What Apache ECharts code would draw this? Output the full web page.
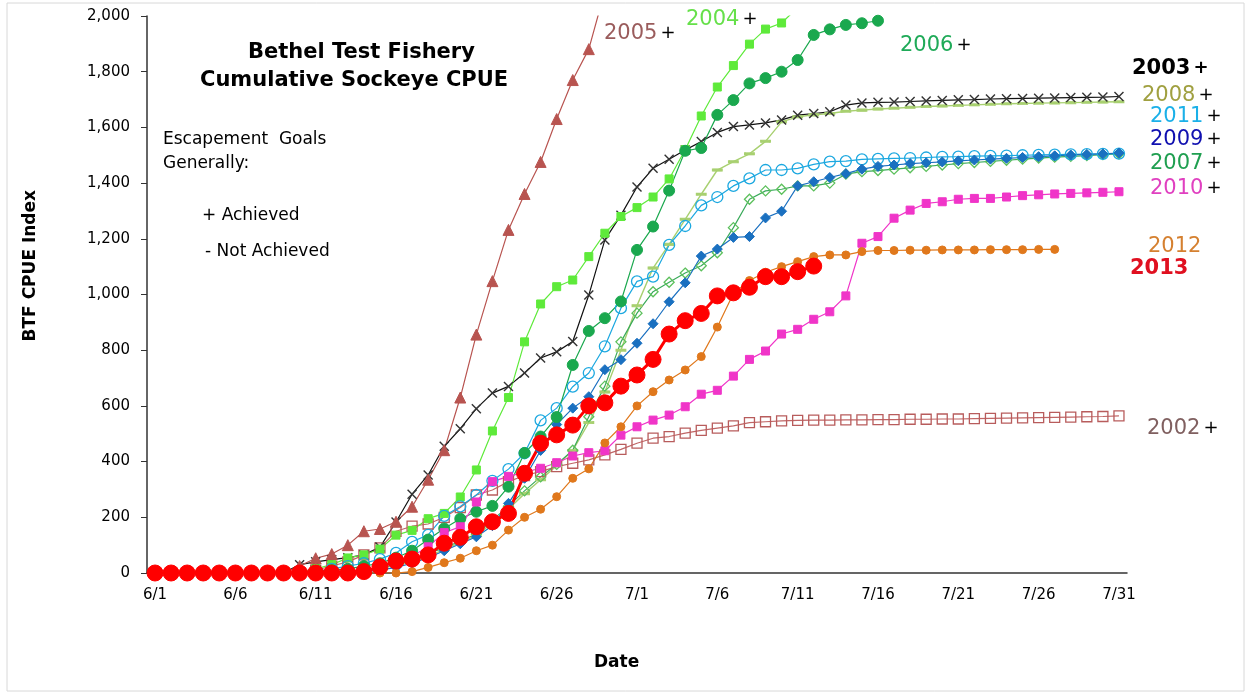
<!DOCTYPE html>
<html><head><meta charset="utf-8">
<script src="https://cdn.jsdelivr.net/npm/echarts@6/dist/echarts.min.js"></script>
<style>html,body{margin:0;padding:0;background:#fff}#c{width:1250px;height:697px}</style>
</head><body><div id="c"></div>
<script>
const categories = ['6/1','6/2','6/3','6/4','6/5','6/6','6/7','6/8','6/9','6/10',
'6/11','6/12','6/13','6/14','6/15','6/16','6/17','6/18','6/19','6/20',
'6/21','6/22','6/23','6/24','6/25','6/26','6/27','6/28','6/29','6/30',
'7/1','7/2','7/3','7/4','7/5','7/6','7/7','7/8','7/9','7/10',
'7/11','7/12','7/13','7/14','7/15','7/16','7/17','7/18','7/19','7/20',
'7/21','7/22','7/23','7/24','7/25','7/26','7/27','7/28','7/29','7/30','7/31'];

const y2002 = [0,0,0,0,0,0,0,0,0,0,
10,25,40,65,90,150,168,176,200,235,
280,298,328,350,364,382,394,406,424,444,
466,484,490,502,512,520,528,540,543,546,
548,549,549,550,550,551,551,552,552,553,
553,554,555,556,557,558,559,560,561,562,564];
const y2003 = [0,0,0,0,0,0,0,0,0,30,
40,48,55,65,93,183,283,352,455,518,
590,646,670,718,772,794,831,998,1196,1285,
1386,1453,1486,1519,1549,1582,1603,1609,1616,1627,
1644,1650,1656,1680,1688,1690,1691,1693,1695,1697,
1699,1700,1702,1703,1704,1705,1706,1707,1708,1709,1711];
const y2004 = [0,0,0,0,0,0,0,0,0,0,
15,30,54,65,86,136,153,195,214,273,
370,510,630,830,966,1028,1052,1136,1220,1280,
1312,1350,1415,1520,1641,1745,1822,1899,1953,1975,
2030,null,null,null,null,null,null,null,null,null,
null,null,null,null,null,null,null,null,null,null,null];
const y2005 = [0,0,0,0,0,0,0,0,0,25,
53,68,100,150,158,184,238,335,441,630,
856,1048,1232,1361,1476,1630,1770,1881,2090,null,
null,null,null,null,null,null,null,null,null,null,
null,null,null,null,null,null,null,null,null,null,
null,null,null,null,null,null,null,null,null,null,null];
const y2006 = [0,0,0,0,0,0,0,0,0,0,
5,10,15,25,35,55,80,120,160,195,
220,241,310,431,490,560,747,869,915,975,
1160,1244,1373,1516,1526,1645,1698,1758,1777,1800,
1842,1932,1952,1968,1974,1983,null,null,null,null,
null,null,null,null,null,null,null,null,null,null,null];
const y2007 = [0,0,0,0,0,0,0,0,0,0,
0,0,5,10,20,30,45,70,90,115,
140,190,240,295,345,390,441,561,671,830,
933,1010,1044,1077,1103,1150,1240,1342,1372,1378,
1390,1390,1400,1432,1441,1445,1450,1455,1460,1465,
1470,1474,1478,1482,1486,1490,1493,1496,1499,1502,1505];
const y2008 = [0,0,0,0,0,0,0,0,0,0,
0,0,5,10,18,28,40,60,85,110,
135,180,230,285,335,385,440,540,650,800,
960,1095,1180,1270,1360,1447,1477,1505,1550,1620,
1638,1645,1650,1658,1662,1666,1669,1672,1675,1677,
1679,1681,1683,1685,1686,1687,1688,1689,1690,1691,1692];
const y2009 = [0,0,0,0,0,0,0,0,0,0,
0,0,0,5,10,20,35,55,80,105,
130,170,250,340,440,533,592,633,730,766,
825,895,974,1042,1138,1163,1205,1208,1275,1299,
1390,1405,1420,1434,1450,1460,1465,1470,1473,1476,
1480,1483,1486,1489,1492,1495,1498,1501,1503,1505,1508];
const y2010 = [0,0,0,0,0,0,0,0,0,0,
0,0,5,10,20,35,60,94,145,166,
255,328,347,362,376,396,420,432,439,495,
525,549,567,597,642,656,707,767,797,858,
875,911,938,995,1184,1208,1274,1303,1327,1333,
1342,1345,1345,1350,1355,1358,1361,1363,1365,1367,1369];
const y2011 = [0,0,0,0,0,0,0,0,0,0,
5,15,25,35,50,72,112,137,205,239,
280,331,373,430,548,592,669,718,814,951,
1047,1064,1178,1246,1320,1350,1390,1417,1447,1447,
1453,1467,1477,1479,1485,1487,1489,1490,1492,1494,
1495,1497,1498,1499,1500,1501,1502,1503,1504,1505,1506];
const y2012 = [0,0,0,0,0,0,0,0,0,0,
0,0,0,0,0,0,5,20,37,53,
80,100,154,200,229,274,340,374,467,525,
600,651,693,729,777,883,1004,1050,1080,1100,
1118,1136,1142,1142,1154,1158,1158,1159,1159,1160,
1160,1160,1161,1161,1161,1162,1162,null,null,null,null];
const y2013 = [0,0,0,0,0,0,0,0,0,0,
0,0,0,5,22,43,50,65,107,128,
166,184,214,358,466,496,531,600,611,671,
711,767,858,906,932,995,1006,1026,1064,1064,
1082,1102,null,null,null,null,null,null,null,null,
null,null,null,null,null,null,null,null,null,null,null];

const yTicks = [0,200,400,600,800,1000,1200,1400,1600,1800,2000];

const X_SYM = 'path://M1,0L5,4L9,0L10,1L6,5L10,9L9,10L5,6L1,10L0,9L4,5L0,1Z';

function mk(name, data, color, symbol, size, extra) {
  return Object.assign({
    name: name, type: 'line', data: data, symbol: symbol, symbolSize: size,
    showAllSymbol: true, connectNulls: false, clip: true, animation: false,
    lineStyle: { color: color, width: 1.2 },
    itemStyle: { color: color, borderColor: color, borderWidth: 1 },
    emphasis: { disabled: true }
  }, extra || {});
}
function hollow(color, w) {
  return { color: 'rgba(255,255,255,0)', borderColor: color, borderWidth: w || 1.3 };
}

const series = [
  mk('2002', y2002, '#C06666', 'rect', 10, { itemStyle: hollow('#B85C5C') }),
  mk('2008', y2008, '#A8D070', 'rect', [9, 2.5], { lineStyle: { color: '#A8D070', width: 1.4 } }),
  mk('2003', y2003, '#111', X_SYM, 10, { itemStyle: { color: '#333' } }),
  mk('2005', y2005, '#B85450', 'triangle', 11),
  mk('2004', y2004, '#5EEA3A', 'rect', 8),
  mk('2007', y2007, '#3AAA5A', 'diamond', 10, { itemStyle: hollow('#5CC05C') }),
  mk('2011', y2011, '#1CA8E0', 'circle', 11, { itemStyle: hollow('#1CA8E0') }),
  mk('2009', y2009, '#1A70C0', 'diamond', 10),
  mk('2006', y2006, '#1AA84E', 'circle', 11),
  mk('2010', y2010, '#F035C8', 'rect', 8),
  mk('2012', y2012, '#E0781C', 'circle', 8),
  mk('2013', y2013, '#FF0000', 'circle', 16, { lineStyle: { color: '#FF0000', width: 3 } })
];

function yearLabel(x, y, year, color, plus, bold) {
  return {
    type: 'text', left: x, top: y, silent: true,
    style: {
      text: '{a|' + year + '}' + (plus ? '{b|+}' : ''),
      rich: {
        a: { fill: color, font: (bold ? 'bold ' : '') + '21px "DejaVu Sans"' },
        b: { fill: '#000', font: (bold ? 'bold ' : '') + '18px "DejaVu Sans"', padding: [0, 0, 0, 3] }
      }
    }
  };
}

const chart = echarts.init(document.getElementById('c'));
chart.setOption({
  animation: false,
  backgroundColor: '#fff',
  grid: { left: 147, top: 16, right: 123, bottom: 124, containLabel: false },
  xAxis: {
    type: 'category', data: categories, boundaryGap: true,
    axisLine: { lineStyle: { color: '#333', width: 1.5 } },
    axisTick: { interval: 0, length: 5, lineStyle: { color: '#333' } },
    axisLabel: { interval: 4, color: '#000', fontSize: 15, fontFamily: 'DejaVu Sans', margin: 15 },
    splitLine: { show: false }
  },
  yAxis: {
    type: 'value', min: 0, max: 2000, interval: 200,
    axisLine: { show: true, lineStyle: { color: '#333', width: 1.5 } },
    axisTick: { show: true, length: 6, lineStyle: { color: '#333' } },
    axisLabel: { color: '#000', fontSize: 15, fontFamily: 'DejaVu Sans', margin: 17,
      formatter: v => v.toLocaleString('en-US') },
    splitLine: { show: false }
  },
  series: series,
  graphic: [
    { type: 'rect', shape: { x: 7, y: 3, width: 1237, height: 688 }, style: { fill: 'none', stroke: '#d8d8d8', lineWidth: 1 }, silent: true, z: -10 },
    { type: 'text', left: 248, top: 42, silent: true, style: { text: 'Bethel Test Fishery', fill: '#000', font: 'bold 21px "DejaVu Sans"' } },
    { type: 'text', left: 200, top: 70, silent: true, style: { text: 'Cumulative Sockeye CPUE', fill: '#000', font: 'bold 21px "DejaVu Sans"' } },
    { type: 'text', left: 163, top: 128, silent: true, style: { text: 'Escapement  Goals\nGenerally:', fill: '#000', font: '17px "DejaVu Sans"', lineHeight: 24 } },
    { type: 'text', left: 202, top: 207, silent: true, style: { text: '+ Achieved', fill: '#000', font: '17px "DejaVu Sans"' } },
    { type: 'text', left: 205, top: 243, silent: true, style: { text: '- Not Achieved', fill: '#000', font: '17px "DejaVu Sans"' } },
    { type: 'text', left: 22, top: 190, rotation: Math.PI / 2, silent: true, style: { text: 'BTF CPUE Index', fill: '#000', font: 'bold 17px "DejaVu Sans"' } },
    { type: 'text', left: 594, top: 654, silent: true, style: { text: 'Date', fill: '#000', font: 'bold 17px "DejaVu Sans"' } },
    yearLabel(604, 23, '2005', '#9A5C5C', true),
    yearLabel(686, 9, '2004', '#66E04A', true),
    yearLabel(900, 35, '2006', '#1FAA58', true),
    yearLabel(1132, 58, '2003', '#000', true, true),
    yearLabel(1142, 85, '2008', '#A0A040', true),
    yearLabel(1150, 106, '2011', '#1BB0E8', true),
    yearLabel(1150, 129, '2009', '#1010B0', true),
    yearLabel(1150, 153, '2007', '#1F9F50', true),
    yearLabel(1150, 178, '2010', '#E040C0', true),
    yearLabel(1148, 236, '2012', '#D58030', false),
    yearLabel(1130, 258, '2013', '#E01020', false, true),
    yearLabel(1147, 418, '2002', '#806060', true)
  ]
});
</script></body></html>
